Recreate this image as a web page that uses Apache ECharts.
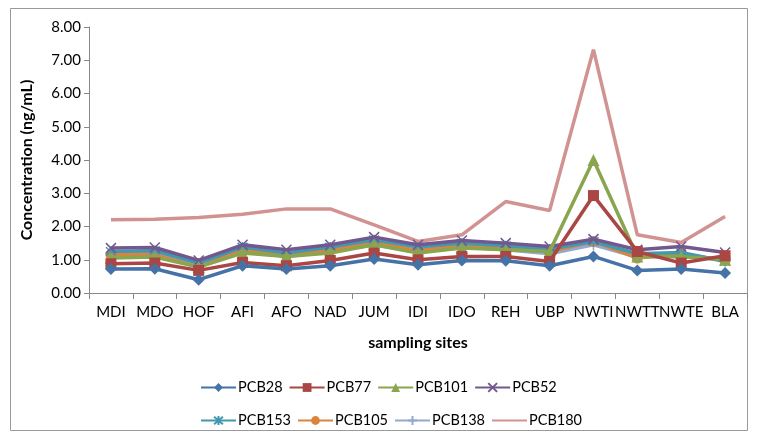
<!DOCTYPE html>
<html><head><meta charset="utf-8">
<script src="https://cdn.jsdelivr.net/npm/echarts@6/dist/echarts.min.js"></script>
<style>html,body{margin:0;padding:0;background:#fff}#c{width:757px;height:439px}</style>
</head><body><div id="c"></div>
<script>
const categories = ['MDI','MDO','HOF','AFI','AFO','NAD','JUM','IDI','IDO','REH','UBP','NWTI','NWTT','NWTE','BLA'];
const yTicks = [0,1,2,3,4,5,6,7,8];
const PCB28  = [0.72,0.73,0.40,0.82,0.72,0.82,1.02,0.85,0.98,0.97,0.82,1.10,0.68,0.72,0.60];
const PCB77  = [0.88,0.90,0.68,0.92,0.82,0.98,1.20,1.00,1.10,1.10,0.95,2.93,1.25,0.90,1.12];
const PCB101 = [1.05,1.08,0.78,1.20,1.10,1.20,1.45,1.20,1.35,1.30,1.25,4.00,1.10,1.10,1.00];
const PCB52  = [1.35,1.37,0.98,1.45,1.30,1.45,1.68,1.45,1.58,1.50,1.40,1.62,1.30,1.40,1.22];
const PCB153 = [1.25,1.27,0.90,1.38,1.20,1.38,1.60,1.38,1.50,1.42,1.32,1.55,1.18,1.22,0.95];
const PCB105 = [1.15,1.15,0.78,1.30,1.12,1.30,1.52,1.28,1.45,1.32,1.25,1.55,1.05,1.18,0.98];
const PCB138 = [1.18,1.20,0.85,1.25,1.10,1.25,1.45,1.25,1.38,1.30,1.18,1.45,1.08,1.10,1.02];
const PCB180 = [2.20,2.22,2.27,2.37,2.53,2.53,2.05,1.55,1.75,2.75,2.48,7.32,1.75,1.52,2.30];

const font = 'Lato, "Liberation Sans", sans-serif';
const xSym = 'path://M0,0L10,10M10,0L0,10';
const starSym = 'path://M0,0L10,10M10,0L0,10M5,-1L5,11';
const plusSym = 'path://M5,0L5,10M0,5L10,5';
const defs = [
  ['PCB28', PCB28, '#4572A7', 'diamond', 12],
  ['PCB77', PCB77, '#AA4643', 'rect', 11],
  ['PCB101', PCB101, '#89A54E', 'triangle', 12],
  ['PCB52', PCB52, '#71588F', xSym, 10],
  ['PCB153', PCB153, '#4198AF', starSym, 10],
  ['PCB105', PCB105, '#DB843D', 'circle', 11],
  ['PCB138', PCB138, '#93A9CF', plusSym, 11],
  ['PCB180', PCB180, '#D19392', 'none', 0]
];
const series = defs.map((d, i) => ({
  name: d[0], type: 'line', data: d[1],
  symbol: d[3], symbolSize: d[4],
  lineStyle: {color: d[2], width: 3.5},
  itemStyle: {color: d[2], borderColor: d[2], borderWidth: d[3].startsWith('path') ? 1.5 : 0},
  emphasis: {disabled: true},
  z: 10 - i
}));
const legendCommon = {
  left: 195, itemWidth: 35, itemHeight: 11, itemGap: 6,
  textStyle: {fontFamily: font, fontSize: 14.5, color: '#000', padding: [0,0,0,-3]},
};
const chart = echarts.init(document.getElementById('c'));
chart.setOption({
  animation: false,
  graphic: [{type: 'rect', shape: {x: 10.5, y: 8.5, width: 737, height: 422}, style: {fill: 'none', stroke: '#999', lineWidth: 1}, silent: true}],
  grid: {left: 89, top: 27, right: 10, bottom: 146, containLabel: false},
  legend: [
    Object.assign({top: 375, data: ['PCB28','PCB77','PCB101','PCB52']}, legendCommon),
    Object.assign({top: 408, data: ['PCB153','PCB105','PCB138', {name: 'PCB180', itemStyle: {opacity: 0}}]}, legendCommon)
  ],
  xAxis: {
    type: 'category', data: categories, boundaryGap: true,
    name: 'sampling sites', nameLocation: 'middle', nameGap: 42,
    nameTextStyle: {fontFamily: font, fontSize: 16, fontWeight: 'bold', color: '#000'},
    axisLine: {lineStyle: {color: '#888'}},
    axisTick: {show: true, alignWithLabel: false, length: 6, lineStyle: {color: '#888'}},
    axisLabel: {fontFamily: font, fontSize: 15, color: '#000', margin: 12, interval: 0},
    splitLine: {show: false}
  },
  yAxis: {
    type: 'value', min: 0, max: 8, interval: 1,
    name: 'Concentration (ng/mL)', nameLocation: 'middle', nameGap: 54,
    nameTextStyle: {fontFamily: font, fontSize: 16, fontWeight: 'bold', color: '#000'},
    axisLine: {show: true, lineStyle: {color: '#888'}},
    axisTick: {show: true, length: 5, lineStyle: {color: '#888'}},
    axisLabel: {fontFamily: font, fontSize: 15, color: '#000', margin: 8, formatter: v => yTicks.includes(v) ? v.toFixed(2) : ''},
    splitLine: {show: false}
  },
  series: series
});
</script></body></html>
